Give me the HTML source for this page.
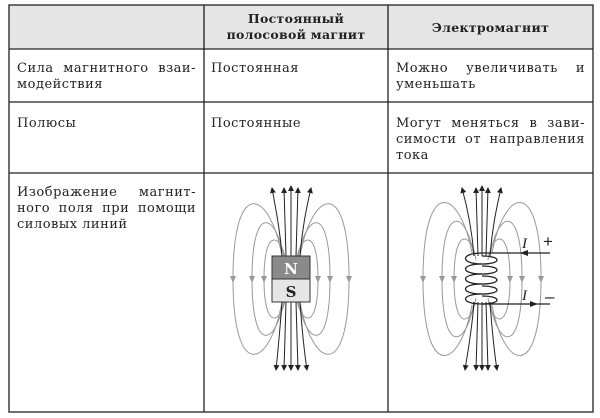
<!DOCTYPE html>
<html><head><meta charset="utf-8"><style>
body{margin:0;background:#fff;width:600px;height:418px;overflow:hidden;position:relative;font-family:"DejaVu Serif","Liberation Serif",serif;color:#222}
.t{position:absolute;font-size:13px;line-height:16px;letter-spacing:0.5px;white-space:nowrap}
.h{font-weight:bold;text-align:center;font-size:12.5px;letter-spacing:0.3px}
.j{text-align:justify;text-align-last:justify;white-space:normal}
</style></head><body>
<svg width="600" height="418" style="position:absolute;left:0;top:0">
<rect x="9" y="5" width="584" height="44" fill="#e6e6e6"/>
<g stroke="#222" stroke-width="1.3" fill="none">
<rect x="9" y="5" width="584" height="407"/>
<line x1="204" y1="5" x2="204" y2="412"/><line x1="388" y1="5" x2="388" y2="412"/>
<line x1="9" y1="49" x2="593" y2="49"/><line x1="9" y1="102" x2="593" y2="102"/><line x1="9" y1="173" x2="593" y2="173"/>
</g>
<defs>
<marker id="a" markerWidth="6" markerHeight="6" refX="5" refY="3" orient="auto"><path d="M0,0 L6,3 L0,6z" fill="#222"/></marker>
</defs>
<g stroke="#999" stroke-width="1" fill="none">
<path d="M282 256 C270 190 233 175 233 279 C233 383 270 368 282 302"/>
<path d="M284 258 C277 215 252 200 252 279 C252 358 277 343 284 300"/>
<path d="M286 262 C282 235 264 225 264 279 C264 333 282 323 286 296"/>
<path d="M300 256 C312 190 349 175 349 279 C349 383 312 368 300 302"/>
<path d="M298 258 C305 215 330 200 330 279 C330 358 305 343 298 300"/>
<path d="M296 262 C300 235 318 225 318 279 C318 333 300 323 296 296"/>
</g>
<g fill="#999"><path d="M230 276l3 7 3-7z"/><path d="M249 276l3 7 3-7z"/><path d="M261 276l3 7 3-7z"/><path d="M346 276l3 7 3-7z"/><path d="M327 276l3 7 3-7z"/><path d="M315 276l3 7 3-7z"/></g>
<g stroke="#222" stroke-width="1" fill="none" marker-end="url(#a)">
<path d="M282 256 C280 230 276 210 272 188"/><path d="M286 256 L284 188"/><path d="M291 256 L291 186"/><path d="M296 256 L298 188"/><path d="M300 256 C302 230 306 210 311 188"/>
<path d="M282 302 C280 330 278 350 276 370"/><path d="M286 302 L284 370"/><path d="M291 302 L291 370"/><path d="M296 302 L298 370"/><path d="M300 302 C302 330 304 350 307 370"/>
</g>
<rect x="272" y="256" width="38" height="23" fill="#8a8a8a" stroke="#333"/>
<rect x="272" y="279" width="38" height="23" fill="#e6e6e6" stroke="#333"/>
<text x="291" y="274" text-anchor="middle" font-size="15" font-weight="bold" fill="#fff" font-family="DejaVu Serif">N</text>
<text x="291" y="297" text-anchor="middle" font-size="15" font-weight="bold" fill="#222" font-family="DejaVu Serif">S</text>
<g stroke="#999" stroke-width="1" fill="none">
<path d="M472 253 C460 188 423 175 423 279 C423 383 460 370 472 305"/>
<path d="M474 256 C467 212 442 200 442 279 C442 358 467 346 474 302"/>
<path d="M476 260 C472 233 454 225 454 279 C454 333 472 325 476 298"/>
<path d="M492 253 C504 188 541 175 541 279 C541 383 504 370 492 305"/>
<path d="M490 256 C497 212 522 200 522 279 C522 358 497 346 490 302"/>
<path d="M488 260 C492 233 510 225 510 279 C510 333 492 325 488 298"/>
</g>
<g fill="#999"><path d="M420 276l3 7 3-7z"/><path d="M439 276l3 7 3-7z"/><path d="M451 276l3 7 3-7z"/><path d="M538 276l3 7 3-7z"/><path d="M519 276l3 7 3-7z"/><path d="M507 276l3 7 3-7z"/></g>
<g stroke="#222" stroke-width="1" fill="none" marker-end="url(#a)">
<path d="M474 256 C472 230 468 210 462 188"/><path d="M478 256 L476 188"/><path d="M482 256 L482 186"/><path d="M486 256 L488 188"/><path d="M490 256 C492 230 496 210 501 188"/>
<path d="M474 302 C472 330 468 350 465 370"/><path d="M478 302 L476 370"/><path d="M482 302 L482 370"/><path d="M486 302 L488 370"/><path d="M490 302 C492 330 494 350 497 370"/>
</g>
<g stroke="#222" stroke-width="1.3" fill="none">
<path d="M482 253 C460 253 460 264 482 264 C502 264 502 256 482 256"/>
<path d="M482 264 C460 264 460 274 482 274 C502 274 502 266 482 266"/>
<path d="M482 274 C460 274 460 284 482 284 C502 284 502 276 482 276"/>
<path d="M482 284 C460 284 460 294 482 294 C502 294 502 286 482 286"/>
<path d="M482 294 C460 294 460 304 482 304 C502 304 502 296 482 296"/>
<line x1="482" y1="253" x2="550" y2="253"/>
<line x1="482" y1="304" x2="550" y2="304"/>
</g>
<path d="M528 250l-8 3 8 3z" fill="#222"/><path d="M530 301l8 3-8 3z" fill="#222"/>
<text x="522" y="248" font-size="15" font-style="italic" font-family="Liberation Serif" fill="#222">I</text>
<text x="522" y="300" font-size="15" font-style="italic" font-family="Liberation Serif" fill="#222">I</text>
<text x="543" y="247" font-size="17" font-family="Liberation Sans" fill="#222">+</text>
<text x="545" y="302" font-size="17" font-family="Liberation Sans" fill="#222">–</text>
</svg>
<div class="t h" style="left:204px;top:11px;width:184px">Постоянный<br>полосовой магнит</div>
<div class="t h" style="left:388px;top:20px;width:205px">Электромагнит</div>
<div class="t j" style="left:17px;top:61px;width:179px">Сила магнитного взаи-</div>
<div class="t" style="left:17px;top:77px">модействия</div>
<div class="t" style="left:211px;top:61px">Постоянная</div>
<div class="t j" style="left:396px;top:61px;width:189px">Можно увеличивать и</div>
<div class="t" style="left:396px;top:77px">уменьшать</div>
<div class="t" style="left:17px;top:116px">Полюсы</div>
<div class="t" style="left:211px;top:116px">Постоянные</div>
<div class="t j" style="left:396px;top:116px;width:189px">Могут меняться в зави-</div>
<div class="t j" style="left:396px;top:132px;width:189px">симости от направления</div>
<div class="t" style="left:396px;top:148px">тока</div>
<div class="t j" style="left:17px;top:185px;width:179px">Изображение магнит-</div>
<div class="t j" style="left:17px;top:201px;width:179px">ного поля при помощи</div>
<div class="t" style="left:17px;top:217px">силовых линий</div>
</body></html>
